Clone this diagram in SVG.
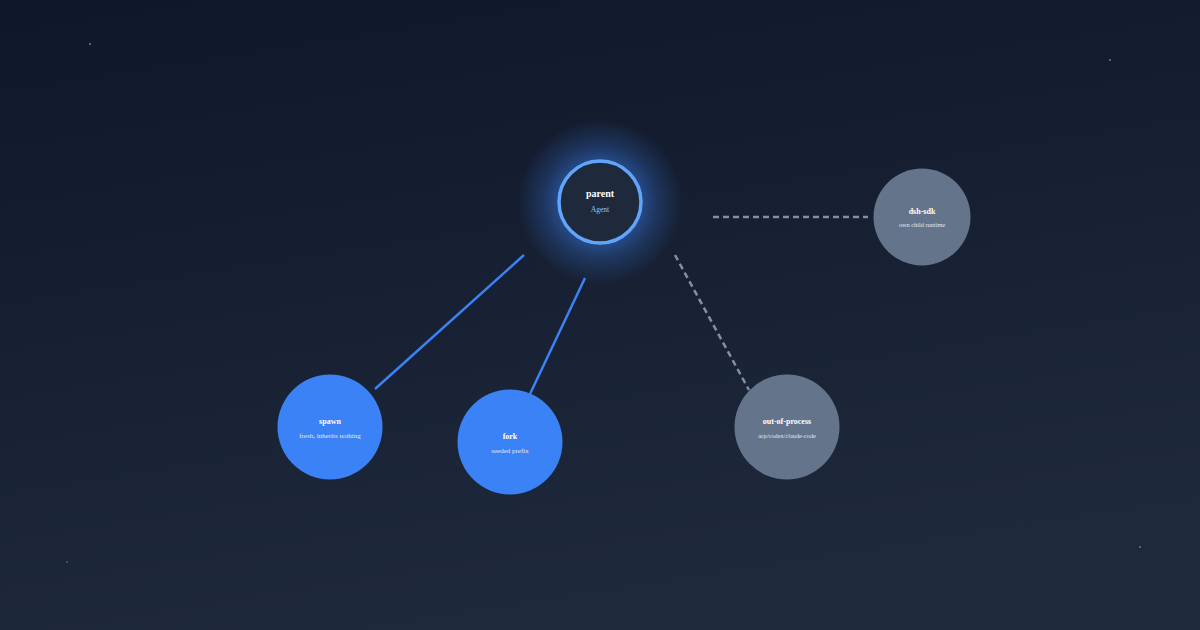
<svg xmlns="http://www.w3.org/2000/svg" width="1200" height="630" viewBox="0 0 1200 630">
<defs>
<linearGradient id="bg" x1="0" y1="0" x2="0.3" y2="1">
<stop offset="0" stop-color="#0f172a"/>
<stop offset="1" stop-color="#1e293b"/>
</linearGradient>
<radialGradient id="glow" cx="0.5" cy="0.5" r="0.5">
<stop offset="0.45" stop-color="#3b82f6" stop-opacity="0.5"/>
<stop offset="0.7" stop-color="#3b82f6" stop-opacity="0.22"/>
<stop offset="1" stop-color="#3b82f6" stop-opacity="0"/>
</radialGradient>
<style>
.t{font-family:"Liberation Serif",serif;text-anchor:middle;font-weight:bold;fill:#ffffff}
.s{font-family:"Liberation Serif",serif;text-anchor:middle;fill:#e2e8f0}
.solid{stroke:#3b82f6;stroke-width:2.5;fill:none}
.dash{stroke:#94a3b8;stroke-width:2.5;stroke-dasharray:6 4;fill:none;opacity:0.85}
.star{fill:#64748b}
</style>
</defs>
<rect width="1200" height="630" fill="url(#bg)"/>
<g id="stars">
<rect class="star" x="89" y="43" width="2" height="2" opacity="0.8"/>
<rect class="star" x="1109" y="59" width="2" height="2" opacity="0.8"/>
<rect class="star" x="1139" y="546" width="2" height="2" opacity="0.8"/>
<rect class="star" x="66" y="561" width="2" height="2" opacity="0.5"/>
</g>
<g id="connectors">
<line class="solid" x1="524" y1="255" x2="375" y2="389"/>
<line class="solid" x1="585" y1="278" x2="530" y2="394"/>
<line class="dash" x1="675" y1="255" x2="749" y2="390"/>
<line class="dash" x1="713" y1="217" x2="868" y2="217"/>
</g>
<g id="parent">
<circle cx="600" cy="202" r="82" fill="url(#glow)"/>
<circle cx="600" cy="202" r="41" fill="#1e293b" stroke="#60a5fa" stroke-width="3.5"/>
<text class="t" x="600" y="197" font-size="10">parent</text>
<text class="s" x="600" y="212" font-size="7.5" style="fill:#93c5fd">Agent</text>
</g>
<g id="dsh-sdk">
<circle cx="922" cy="217" r="48.5" fill="#64748b"/>
<text class="t" x="922" y="214" font-size="8">dsh-sdk</text>
<text class="s" x="922" y="227" font-size="6.3">own child runtime</text>
</g>
<g id="spawn">
<circle cx="330" cy="427" r="52.5" fill="#3b82f6"/>
<text class="t" x="330" y="424" font-size="8">spawn</text>
<text class="s" x="330" y="438" font-size="7">fresh, inherits nothing</text>
</g>
<g id="fork">
<circle cx="510" cy="442" r="52.5" fill="#3b82f6"/>
<text class="t" x="510" y="439" font-size="8">fork</text>
<text class="s" x="510" y="453" font-size="7">seeded prefix</text>
</g>
<g id="out-of-process">
<circle cx="787" cy="427" r="52.5" fill="#64748b"/>
<text class="t" x="787" y="424" font-size="8">out-of-process</text>
<text class="s" x="787" y="438" font-size="6.3">acp/codex/claude-code</text>
</g>
</svg>
